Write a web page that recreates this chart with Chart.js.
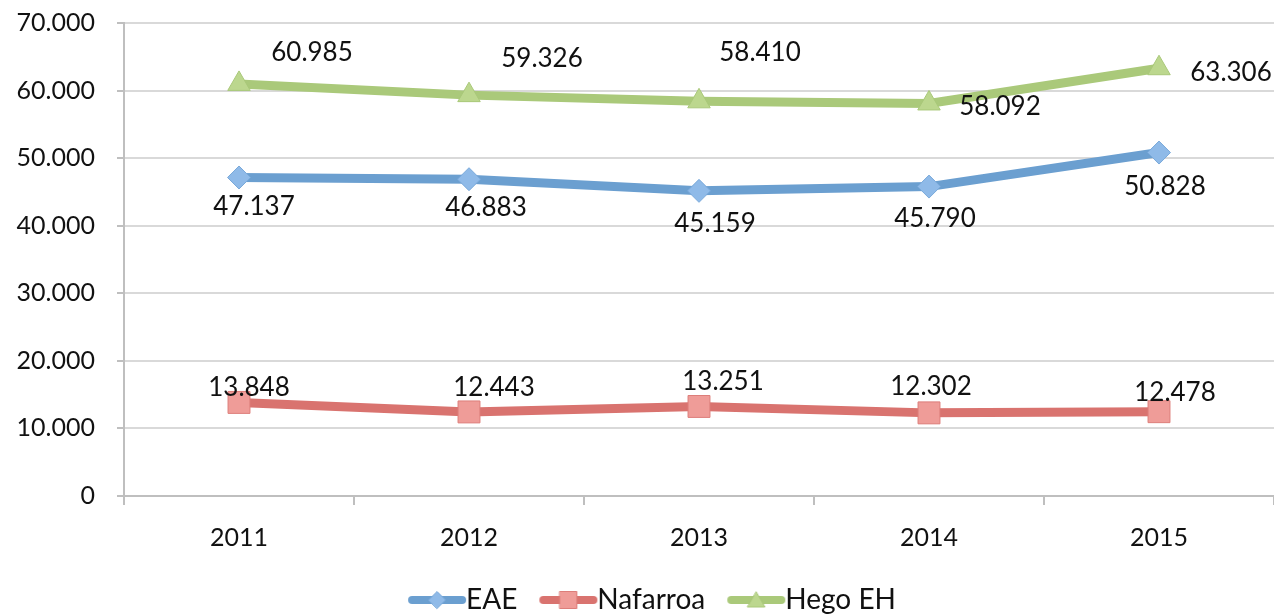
<!DOCTYPE html>
<html>
<head>
<meta charset="utf-8">
<script src="https://cdn.jsdelivr.net/npm/chart.js@4/dist/chart.umd.min.js"></script>
<style>
html,body{margin:0;padding:0;background:#ffffff;}
#wrap{width:1274px;height:615px;position:relative;overflow:hidden;}
</style>
</head>
<body>
<div id="wrap"><canvas id="c" width="1274" height="615"></canvas></div>
<script>
// ---- data ----
const years = ['2011', '2012', '2013', '2014', '2015'];
const eae = [47137, 46883, 45159, 45790, 50828];
const nafarroa = [13848, 12443, 13251, 12302, 12478];
const hegoEH = [60985, 59326, 58410, 58092, 63306];
const seriesNames = ['EAE', 'Nafarroa', 'Hego EH'];
const yMin = 0, yMax = 70000, yStep = 10000;

// ---- label placement (pixels relative to each point, style only) ----
const eaeLabelOffsets = [[15, 29], [17, 28], [16, 32], [6, 31], [6, 33]];
const nafLabelOffsets = [[10, -15], [25, -25], [24, -25], [2, -27], [16, -20]];
const hegoLabelOffsets = [[73, -32], [73, -37], [61, -49], [71, 3], [72, 4]];

const FONT = 'Lato, "Open Sans", "DejaVu Sans", sans-serif';

function fmt(v) {
  return String(Math.round(v)).replace(/\B(?=(\d{3})+(?!\d))/g, '.');
}

function drawMarker(ctx, style, x, y, r, fill, stroke) {
  ctx.save();
  ctx.fillStyle = fill;
  ctx.strokeStyle = stroke;
  ctx.lineWidth = 1;
  ctx.beginPath();
  if (style === 'rectRot') {
    ctx.moveTo(x - r, y); ctx.lineTo(x, y - r); ctx.lineTo(x + r, y); ctx.lineTo(x, y + r);
  } else if (style === 'rect') {
    const s = r * Math.SQRT1_2;
    ctx.rect(x - s, y - s, 2 * s, 2 * s);
  } else {
    ctx.moveTo(x, y - r);
    ctx.lineTo(x + r * Math.cos(Math.PI / 6), y + r * 0.5);
    ctx.lineTo(x - r * Math.cos(Math.PI / 6), y + r * 0.5);
  }
  ctx.closePath();
  ctx.fill();
  ctx.stroke();
  ctx.restore();
}

function legendImage(lineColor, style, r, fill, stroke) {
  const c = document.createElement('canvas');
  c.width = 60; c.height = 30;
  const ctx = c.getContext('2d');
  ctx.strokeStyle = lineColor;
  ctx.lineWidth = 8;
  ctx.lineCap = 'round';
  ctx.beginPath(); ctx.moveTo(5, 15); ctx.lineTo(55, 15); ctx.stroke();
  drawMarker(ctx, style, 30, style === 'triangle' ? 17 : 15, r, fill, stroke);
  return c;
}

const styles = [
  {line: '#6B9FD0', fill: '#8FBAE8', stroke: '#79A9DA', point: 'rectRot', r: 11.5, lr: 8.5},
  {line: '#D9736F', fill: '#EF9C98', stroke: '#DD7E7A', point: 'rect', r: 15.5, lr: 12},
  {line: '#AAC97A', fill: '#BCD78E', stroke: '#A9C879', point: 'triangle', r: 13, lr: 10}
];
const allValues = [eae, nafarroa, hegoEH];
const allOffsets = [eaeLabelOffsets, nafLabelOffsets, hegoLabelOffsets];

const legendImages = styles.map(s => legendImage(s.line, s.point, s.lr, s.fill, s.stroke));

const dataLabelPlugin = {
  id: 'dataLabels',
  afterDatasetsDraw(chart) {
    const ctx = chart.ctx;
    ctx.save();
    ctx.font = '26px ' + FONT;
    ctx.fillStyle = '#111111';
    ctx.textAlign = 'center';
    ctx.textBaseline = 'alphabetic';
    chart.data.datasets.forEach((ds, di) => {
      const meta = chart.getDatasetMeta(di);
      meta.data.forEach((pt, i) => {
        const off = allOffsets[di][i];
        ctx.fillText(fmt(ds.data[i]), pt.x + off[0], pt.y + off[1] + 9);
      });
    });
    ctx.restore();
  }
};

const legendShiftPlugin = {
  id: 'legendShift',
  afterLayout(chart) {
    if (chart.legend) {
      chart.legend.left += 22;
      chart.legend.right += 22;
    }
  }
};

new Chart(document.getElementById('c'), {
  type: 'line',
  data: {
    labels: years,
    datasets: allValues.map((vals, i) => ({
      label: seriesNames[i],
      data: vals,
      borderColor: styles[i].line,
      backgroundColor: styles[i].fill,
      borderWidth: 9,
      tension: 0,
      pointStyle: styles[i].point,
      pointRadius: styles[i].r,
      pointBackgroundColor: styles[i].fill,
      pointBorderColor: styles[i].stroke,
      pointBorderWidth: 1,
      fill: false,
      clip: false
    }))
  },
  options: {
    responsive: false,
    animation: false,
    devicePixelRatio: 1,
    layout: {autoPadding: false, padding: {top: 23, right: 0, left: 0, bottom: -9}},
    plugins: {
      tooltip: {enabled: false},
      legend: {
        position: 'bottom',
        labels: {
          usePointStyle: true,
          pointStyleWidth: 30,
          padding: 36,
          color: '#111111',
          font: {family: FONT, size: 28},
          generateLabels(chart) {
            return chart.data.datasets.map((ds, i) => ({
              text: ds.label,
              pointStyle: legendImages[i],
              fillStyle: styles[i].fill,
              strokeStyle: styles[i].line,
              lineWidth: 0,
              hidden: false,
              datasetIndex: i,
              fontColor: '#111111'
            }));
          }
        }
      }
    },
    scales: {
      x: {
        type: 'category',
        offset: true,
        grid: {
          display: true,
          offset: true,
          drawOnChartArea: false,
          drawTicks: true,
          tickLength: 9,
          color: '#BFBFBF',
          lineWidth: 2
        },
        border: {display: true, color: '#BFBFBF', width: 2},
        ticks: {
          color: '#111111',
          font: {family: FONT, size: 25},
          padding: 18,
          maxRotation: 0
        },
        afterFit(scale) {
          scale.height = 54;
          scale.paddingLeft = 0;
          scale.paddingRight = 0;
        }
      },
      y: {
        min: yMin,
        max: yMax,
        grid: {
          color: '#D9D9D9',
          lineWidth: 2,
          drawTicks: true,
          tickLength: 7,
          tickColor: '#BFBFBF'
        },
        border: {display: true, color: '#BFBFBF', width: 2},
        ticks: {
          stepSize: yStep,
          color: '#111111',
          font: {family: FONT, size: 25},
          padding: 22,
          callback: v => fmt(v)
        },
        afterFit(scale) {
          scale.width = 124;
          scale.paddingTop = 0;
          scale.paddingBottom = 0;
        }
      }
    }
  },
  plugins: [dataLabelPlugin, legendShiftPlugin]
});
</script>
</body>
</html>
